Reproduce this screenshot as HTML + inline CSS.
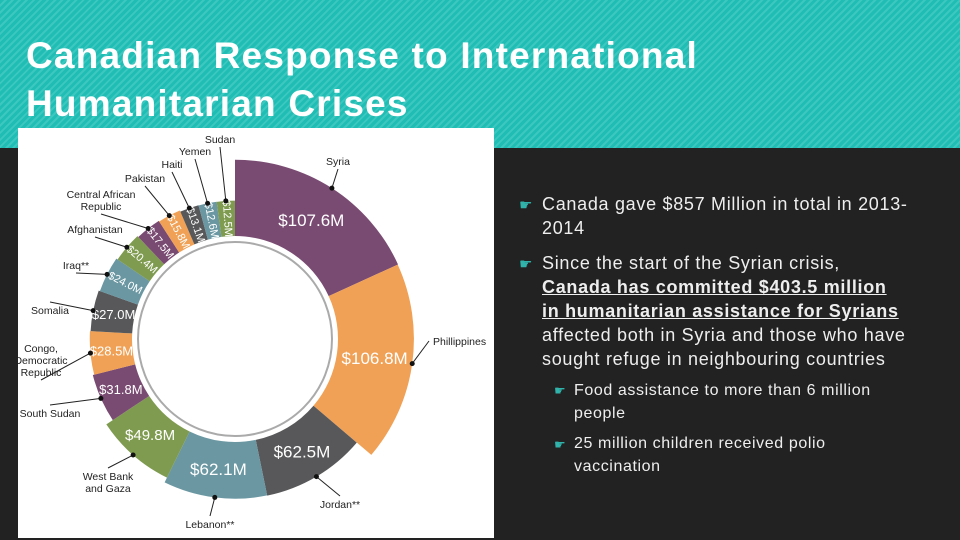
<!DOCTYPE html>
<html><head><meta charset="utf-8">
<style>
html,body{margin:0;padding:0}
body{width:960px;height:540px;position:relative;overflow:hidden;background:#222222;font-family:"Liberation Sans",sans-serif}
#header{position:absolute;left:0;top:0;width:960px;height:148px;background:repeating-linear-gradient(135deg,#20bdb4 0 3px,#3cc8c0 3px 5px)}
#title{position:absolute;left:26px;top:32px;color:#fff;font-weight:bold;font-size:37px;line-height:48px;margin:0;letter-spacing:1.2px}
#chart-box{position:absolute;left:18px;top:128px;width:476px;height:410px;background:#fff}
.txt{position:absolute;color:#eeeeee;font-size:18px;line-height:24px;letter-spacing:0.7px;white-space:nowrap}
.sub{font-size:16px;line-height:22.5px;letter-spacing:0.6px}
.bul{position:absolute;color:#2fb3ab;font-size:15px}
u{font-weight:bold}
</style></head><body>
<div id="header"></div>
<h1 id="title">Canadian Response to International<br>Humanitarian Crises</h1>
<div id="chart-box"></div>
<svg id="chart" width="960" height="540" style="position:absolute;left:0;top:0"></svg>

<span class="bul" style="left:519px;top:196px">☛</span>
<div class="txt" style="left:542px;top:192px">Canada gave $857 Million in total in 2013-<br>2014</div>
<span class="bul" style="left:519px;top:255px">☛</span>
<div class="txt" style="left:542px;top:251px">Since the start of the Syrian crisis,<br><u>Canada has committed $403.5 million<br>in humanitarian assistance for Syrians</u><br>affected both in Syria and those who have<br>sought refuge in neighbouring countries</div>
<span class="bul" style="left:554px;top:383px;font-size:13px">☛</span>
<div class="txt sub" style="left:574px;top:380px">Food assistance to more than 6 million<br>people</div>
<span class="bul" style="left:554px;top:437px;font-size:13px">☛</span>
<div class="txt sub" style="left:574px;top:433px">25 million children received polio<br>vaccination</div>

<script>
const countries=["Syria","Phillippines","Jordan**","Lebanon**","West Bank|and Gaza","South Sudan","Congo,|Democratic|Republic","Somalia","Iraq**","Afghanistan","Central African|Republic","Pakistan","Haiti","Yemen","Sudan"];
const values=[107.6,106.8,62.5,62.1,49.8,31.8,28.5,27.0,24.0,20.4,17.5,15.8,13.1,12.6,12.5];
const valueLabels=["$107.6M","$106.8M","$62.5M","$62.1M","$49.8M","$31.8M","$28.5M","$27.0M","$24.0M","$20.4M","$17.5M","$15.8M","$13.1M","$12.6M","$12.5M"];
const palette=["#7a4b72","#f0a155","#58585a","#6a97a2","#7f9b50"];
// label anchor positions (layout, not data)
const labelPos=[[338,165,"middle"],[433,345,"start"],[340,508,"middle"],[210,528,"middle"],[108,480,"middle"],[50,417,"middle"],[41,352,"middle"],[50,314,"middle"],[76,269,"middle"],[95,233,"middle"],[101,198,"middle"],[145,182,"middle"],[172,168,"middle"],[195,155,"middle"],[220,143,"middle"]];
const cx=235,cy=339,rIn=103;
const total=values.reduce((a,b)=>a+b,0);
const ang=v=>v/total*Math.PI*2;
const rOut=v=>133+v*0.43;
const svg=document.getElementById('chart');
const NS="http://www.w3.org/2000/svg";
function pt(r,a){return [cx+r*Math.sin(a),cy-r*Math.cos(a)];}
const ring=document.createElementNS(NS,'circle');
ring.setAttribute('cx',cx);ring.setAttribute('cy',cy);ring.setAttribute('r',97);
ring.setAttribute('fill','#fff');ring.setAttribute('stroke','#aaa');ring.setAttribute('stroke-width','2');


svg.appendChild(ring);
let a0=0;
values.forEach((v,i)=>{
  const a1=a0+ang(v), ro=rOut(v);
  const p1=pt(ro,a0),p2=pt(ro,a1),p3=pt(rIn,a1),p4=pt(rIn,a0);
  const large=(a1-a0)>Math.PI?1:0;
  const path=document.createElementNS(NS,'path');
  path.setAttribute('d',`M${p1}A${ro},${ro} 0 ${large} 1 ${p2}L${p3}A${rIn},${rIn} 0 ${large} 0 ${p4}Z`);
  path.setAttribute('fill',palette[i%5]);
  
  
  svg.appendChild(path);
  const am=(a0+a1)/2;
  const rm=(rIn+ro)/2;
  const [tx,ty]=pt(rm,am);
  const t=document.createElementNS(NS,'text');
  t.textContent=valueLabels[i];
  t.setAttribute('fill','#fff');
  t.setAttribute('text-anchor','middle');
  t.setAttribute('dominant-baseline','central');
  t.setAttribute('font-family','Liberation Sans Narrow, Liberation Sans, sans-serif');
  if(v>=27){
    t.setAttribute('font-size',v>60?17:(v>40?15:13));
    t.setAttribute('x',tx);t.setAttribute('y',ty);
  } else {
    t.setAttribute('font-size',11);
    t.setAttribute('x',tx);t.setAttribute('y',ty);
    t.setAttribute('transform',`rotate(${am*180/Math.PI+90} ${tx} ${ty})`);
  }
  
  
  svg.appendChild(t);
  const [dx,dy]=pt(ro,am);
  const lp=labelPos[i];
  const ln=document.createElementNS(NS,'line');
  const lines=countries[i].split('|');
  let ly=lp[1]+(lp[2]==="start"?-4:(dy>lp[1]?4+(lines.length-1)*12:-12));
  ln.setAttribute('x1',dx);ln.setAttribute('y1',dy);
  ln.setAttribute('x2',lp[2]==="start"?lp[0]-4:lp[0]);ln.setAttribute('y2',ly);
  ln.setAttribute('stroke','#222');ln.setAttribute('stroke-width','1');
  
  
  svg.appendChild(ln);
  const dot=document.createElementNS(NS,'circle');
  dot.setAttribute('cx',dx);dot.setAttribute('cy',dy);dot.setAttribute('r',2.5);dot.setAttribute('fill','#111');
  
  
  svg.appendChild(dot);
  lines.forEach((s,k)=>{
    const ct=document.createElementNS(NS,'text');
    ct.textContent=s;
    ct.setAttribute('x',lp[0]);ct.setAttribute('y',lp[1]+k*12);
    ct.setAttribute('text-anchor',lp[2]);
    ct.setAttribute('font-size',10.5);
    ct.setAttribute('fill','#222');
    ct.setAttribute('font-family','Liberation Sans Narrow, Liberation Sans, sans-serif');
    
    
    svg.appendChild(ct);
  });
  a0=a1;
});
</script>
</body></html>
